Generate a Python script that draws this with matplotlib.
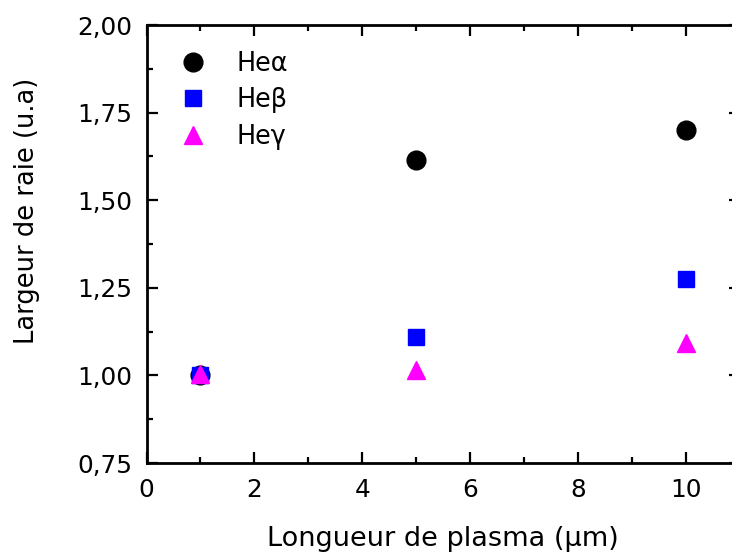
import matplotlib
matplotlib.use("Agg")
import matplotlib.pyplot as plt
from matplotlib.ticker import MultipleLocator, FuncFormatter

plt.rcParams["font.family"] = ["DejaVu Sans"]

# data
longueur = [1, 5, 10]
he_alpha = [1.00, 1.615, 1.70]
he_beta = [1.00, 1.11, 1.275]
he_gamma = [1.005, 1.015, 1.093]
labels = ["He\u03b1", "He\u03b2", "He\u03b3"]

fig = plt.figure(figsize=(7.32, 5.54), dpi=100, facecolor="white")
ax = fig.add_axes([146.5 / 732, 1 - 463 / 554, 593.5 / 732, 438 / 554])

ax.plot(longueur, he_alpha, "o", color="black", ms=13.5, mec="black", label=labels[0], zorder=3)
ax.plot(longueur, he_beta, "s", color="#0000FF", ms=11.5, mec="#0000FF", label=labels[1], zorder=4)
ax.plot(longueur, he_gamma, "^", color="#FF00FF", ms=13.5, mec="#FF00FF", label=labels[2], zorder=5)

ax.set_xlim(0, 11)
ax.set_ylim(0.75, 2.00)
ax.xaxis.set_major_locator(MultipleLocator(2))
ax.xaxis.set_minor_locator(MultipleLocator(1))
ax.yaxis.set_major_locator(MultipleLocator(0.25))
ax.yaxis.set_minor_locator(MultipleLocator(0.125))
ax.yaxis.set_major_formatter(FuncFormatter(lambda v, p: f"{v:.2f}".replace(".", ",")))

for s in ax.spines.values():
    s.set_linewidth(2.0)
ax.tick_params(which="both", direction="in", top=True, right=True, width=1.6, labelsize=17.8)
ax.tick_params(which="major", length=8)
ax.tick_params(which="minor", length=4.5)
ax.tick_params(axis="y", which="major", pad=10)
ax.tick_params(axis="x", which="major", pad=11)

ax.set_xlabel("Longueur de plasma (\u00b5m)", fontsize=19.5)
ax.set_ylabel("Largeur de raie (u.a)", fontsize=18.5)
ax.xaxis.set_label_coords(0.5, -0.144)
ax.yaxis.set_label_coords(-0.179, 0.576)

ax.legend(loc="upper left", bbox_to_anchor=(0.0568, 0.9414), frameon=False, fontsize=18.4,
          numpoints=1, handlelength=1.0, handletextpad=1.21, labelspacing=0.42,
          borderpad=0, borderaxespad=0)

fig.savefig("out.png", dpi=100, facecolor="white")
